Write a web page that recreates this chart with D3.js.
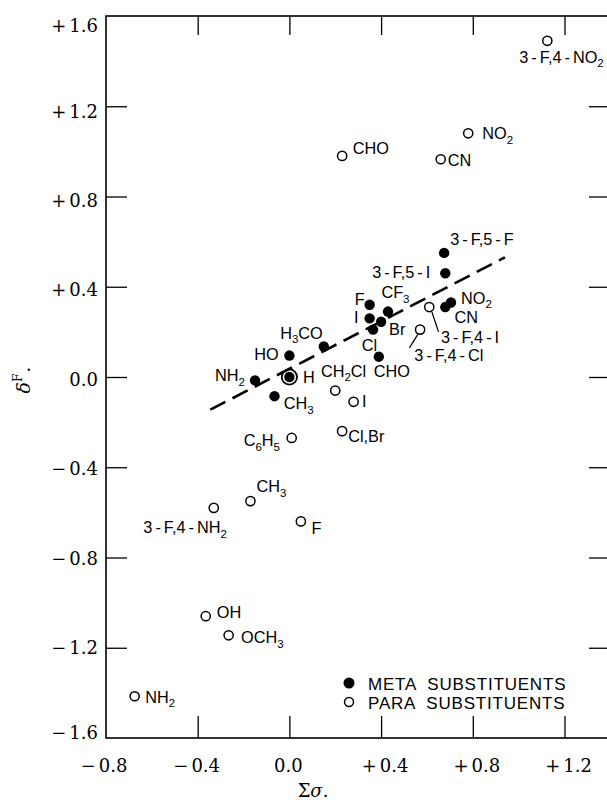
<!DOCTYPE html>
<html><head><meta charset="utf-8">
<script src="https://cdn.jsdelivr.net/npm/d3@7"></script>
<style>body{margin:0;background:#fff} svg{display:block}</style>
</head><body>
<svg id="c" width="607" height="802"></svg>
<script>
// ---------- data ----------
const metaNames = ["3-F,5-F","3-F,5-I","NO_2","CN","F","CF_3","I","Br","Cl","CHO","H_3CO","HO","H","NH_2","CH_3"];
const metaX     = [0.675, 0.68, 0.705, 0.68, 0.35, 0.43, 0.35, 0.40, 0.365, 0.39, 0.15, 0.0, 0.0, -0.15, -0.065];
const metaY     = [0.55, 0.46, 0.33, 0.31, 0.32, 0.29, 0.26, 0.245, 0.21, 0.09, 0.135, 0.095, 0.0, -0.015, -0.085];

const paraNames = ["3-F,4-NO_2","NO_2","CHO","CN","3-F,4-I","3-F,4-Cl","H","CH_2Cl","I","Cl,Br","C_6H_5","3-F,4-NH_2","CH_3","F","OH","OCH_3","NH_2"];
const paraX     = [1.125, 0.78, 0.23, 0.66, 0.61, 0.57, 0.0, 0.20, 0.28, 0.23, 0.01, -0.33, -0.17, 0.05, -0.365, -0.265, -0.675];
const paraY     = [1.49, 1.08, 0.98, 0.965, 0.31, 0.21, 0.0, -0.06, -0.11, -0.24, -0.27, -0.58, -0.55, -0.64, -1.06, -1.145, -1.415];

const xTicks = [-0.8, -0.4, 0.0, 0.4, 0.8, 1.2];
const xTickLabels = ["\u22120.8","\u22120.4","0.0","+0.4","+0.8","+1.2"];
const yTicks = [1.6, 1.2, 0.8, 0.4, 0.0, -0.4, -0.8, -1.2, -1.6];
const yTickLabels = ["+1.6","+1.2","+0.8","+0.4","0.0","\u22120.4","\u22120.8","\u22121.2","\u22121.6"];

const fitX = [-0.345, 0.94];
const fitY = [-0.145, 0.53];

const legendLabels = ["META  SUBSTITUENTS", "PARA  SUBSTITUENTS"];
const xTitle = "\u03A3\u03C3.";

// ---------- layout (label offsets in px relative to the marker) ----------
const metaLabelLayout = [
  [6,-7.7,"start"],[-15,5,"end"],[10,1,"start"],[9.3,16.3,"start"],[-5,0,"end"],
  [-6.6,-13.5,"start"],[-11,5,"end"],[8,13,"start"],[-11.3,21.7,"start"],[-5,20.5,"start"],
  [-1,-8,"end"],[-10.7,4.3,"end"],null,[-10,1,"end"],[9.3,13.3,"start"]
];
const paraLabelLayout = [
  [-28,22,"start"],[14,6,"start"],[10.6,-2,"start"],[7,7,"start"],
  [11.7,36,"start",[2.7,5,9.3,25]],[-5.7,31,"start",[-2.4,5,-10.7,18.3]],
  [13.7,5.5,"start"],[-14.3,-14,"start"],[8.4,5,"start"],[6,11,"start"],[-11.7,8.5,"end"],
  [-70.4,25.4,"start"],[6,-8.7,"start"],[10.6,12.6,"start"],[11,2,"start"],[12.4,8,"start"],[10.7,6.7,"start"]
];
const yLabelShift = [9,5.7,4,3,2,1.5,1,0,-6];

// ---------- drawing ----------
const svg = d3.select("#c");
svg.append("rect").attr("width",607).attr("height",802).attr("fill","#fff");

const x = d3.scaleLinear().domain([-0.8, 1.2]).range([106, 564.5]);
const y = d3.scaleLinear().domain([-1.6, 1.6]).range([738, 16]);
const xRight = 611;

const serif = "'DejaVu Serif','Liberation Serif',serif";
const sans = "'Liberation Sans','DejaVu Sans',sans-serif";

// frame
svg.append("rect").attr("x", x(-0.8)).attr("y", y(1.6))
  .attr("width", xRight - x(-0.8)).attr("height", y(-1.6) - y(1.6))
  .attr("fill","none").attr("stroke","#000").attr("stroke-width",1.6);

function tickAxis(axis, transform) {
  const g = svg.append("g").attr("transform", transform).call(axis);
  g.select(".domain").remove();
  g.selectAll("text").remove();
  g.selectAll("line").attr("stroke","#000").attr("stroke-width",1.3);
  return g;
}
tickAxis(d3.axisLeft(y).tickValues(yTicks.slice(1,-1)).tickSize(-21).tickFormat(""), `translate(${x(-0.8)},0)`);
tickAxis(d3.axisRight(y).tickValues(yTicks.slice(1,-1)).tickSize(-22).tickFormat(""), `translate(${xRight},0)`);
tickAxis(d3.axisTop(x).tickValues(xTicks.slice(1)).tickSize(-19).tickFormat(""), `translate(0,${y(1.6)})`);
tickAxis(d3.axisBottom(x).tickValues(xTicks.slice(1)).tickSize(-22).tickFormat(""), `translate(0,${y(-1.6)})`);

// signed number label: sign then the number
function signedText(sel, s) {
  const first = s[0];
  if (first === "+" || first === "\u2212") {
    sel.append("tspan").text(first);
    sel.append("tspan").attr("dx", 3).text(s.slice(1));
  } else sel.text(s);
}

// y tick labels
yTicks.forEach((v, i) => {
  const t = svg.append("text").attr("x", 98).attr("y", y(v) + yLabelShift[i] + 6.5)
    .attr("text-anchor","end").attr("font-family", serif).attr("font-size", 18)
    .attr("fill","#000");
  signedText(t, yTickLabels[i]);
});
// x tick labels
xTicks.forEach((v, i) => {
  const t = svg.append("text").attr("x", x(v) + (i === 0 ? -2 : (i >= 3 ? 4 : -1))).attr("y", 771.5)
    .attr("text-anchor","middle").attr("font-family", serif).attr("font-size", 18)
    .attr("fill","#000");
  signedText(t, xTickLabels[i]);
});

// axis titles
const xt = svg.append("text").attr("x", 313).attr("y", 797).attr("text-anchor","middle")
  .attr("font-family", serif).attr("font-size", 18);
xt.append("tspan").text(xTitle[0]);
xt.append("tspan").attr("font-style","italic").text(xTitle.slice(1));
const yt = svg.append("text").attr("transform","translate(30,380) rotate(-90)")
  .attr("text-anchor","middle").attr("font-family", serif).attr("font-size", 19);
yt.append("tspan").attr("font-style","italic").text("\u03B4");
yt.append("tspan").attr("font-size", 12).attr("dy", -8).text("F");
yt.append("tspan").attr("dy", 8).attr("dx", 1).text(".");

// regression (dashed) line
svg.append("path")
  .datum(fitX.map((v, i) => [v, fitY[i]]))
  .attr("d", d3.line().x(d => x(d[0])).y(d => y(d[1])))
  .attr("fill","none").attr("stroke","#000").attr("stroke-width",2.6)
  .attr("stroke-dasharray","17,8");

// label with subscripts (_N) and spaced hyphens
function richLabel(g, name, px, py, anchor) {
  const t = g.append("text").attr("x", px).attr("y", py).attr("text-anchor", anchor)
    .attr("font-family", sans).attr("font-size", 16.3).attr("fill","#000");
  const parts = name.split(/(_\d)/).filter(s => s.length);
  let lowered = false;
  parts.forEach(p => {
    if (p[0] === "_") {
      t.append("tspan").attr("font-size", 11.5).attr("dy", lowered ? 0 : 4.5).text(p.slice(1));
      lowered = true;
    } else {
      const segs = p.split(/(-)/).filter(s => s.length);
      segs.forEach((s, k) => {
        const ts = t.append("tspan").text(s);
        if (lowered) { ts.attr("dy", -4.5); lowered = false; }
        if (s === "-" || (k > 0 && segs[k-1] === "-")) ts.attr("dx", 3);
      });
    }
  });
  return t;
}

const labels = svg.append("g");

// meta (filled)
metaX.forEach((v, i) => {
  const px = x(v), py = y(metaY[i]);
  svg.append("circle").attr("cx", px).attr("cy", py).attr("r", 5.2).attr("fill","#000");
  const L = metaLabelLayout[i];
  if (L) richLabel(labels, metaNames[i], px + L[0], py + L[1], L[2]);
});
// para (open)
paraX.forEach((v, i) => {
  const px = x(v), py = y(paraY[i]);
  const isH = paraNames[i] === "H";
  svg.append("circle").attr("cx", px).attr("cy", py).attr("r", isH ? 7.6 : 4.6)
    .attr("fill","none").attr("stroke","#000").attr("stroke-width", isH ? 1.8 : 1.5);
  const L = paraLabelLayout[i];
  if (L) {
    richLabel(labels, paraNames[i], px + L[0], py + L[1], L[2]);
    if (L[3]) {
      svg.append("line").attr("x1", px + L[3][0]).attr("y1", py + L[3][1])
        .attr("x2", px + L[3][2]).attr("y2", py + L[3][3])
        .attr("stroke","#000").attr("stroke-width",1.2);
    }
  }
});

// legend
const leg = svg.append("g");
leg.append("circle").attr("cx", 349).attr("cy", 683).attr("r", 5.5).attr("fill","#000");
leg.append("circle").attr("cx", 349).attr("cy", 702).attr("r", 4.5).attr("fill","none")
  .attr("stroke","#000").attr("stroke-width",1.5);
legendLabels.forEach((s, i) => {
  leg.append("text").attr("x", 368).attr("y", 689.5 + i * 19).attr("xml:space","preserve")
    .style("white-space","pre")
    .attr("font-family", sans).attr("font-size", 17).attr("letter-spacing", 0.8).text(s);
});
</script>
</body></html>
